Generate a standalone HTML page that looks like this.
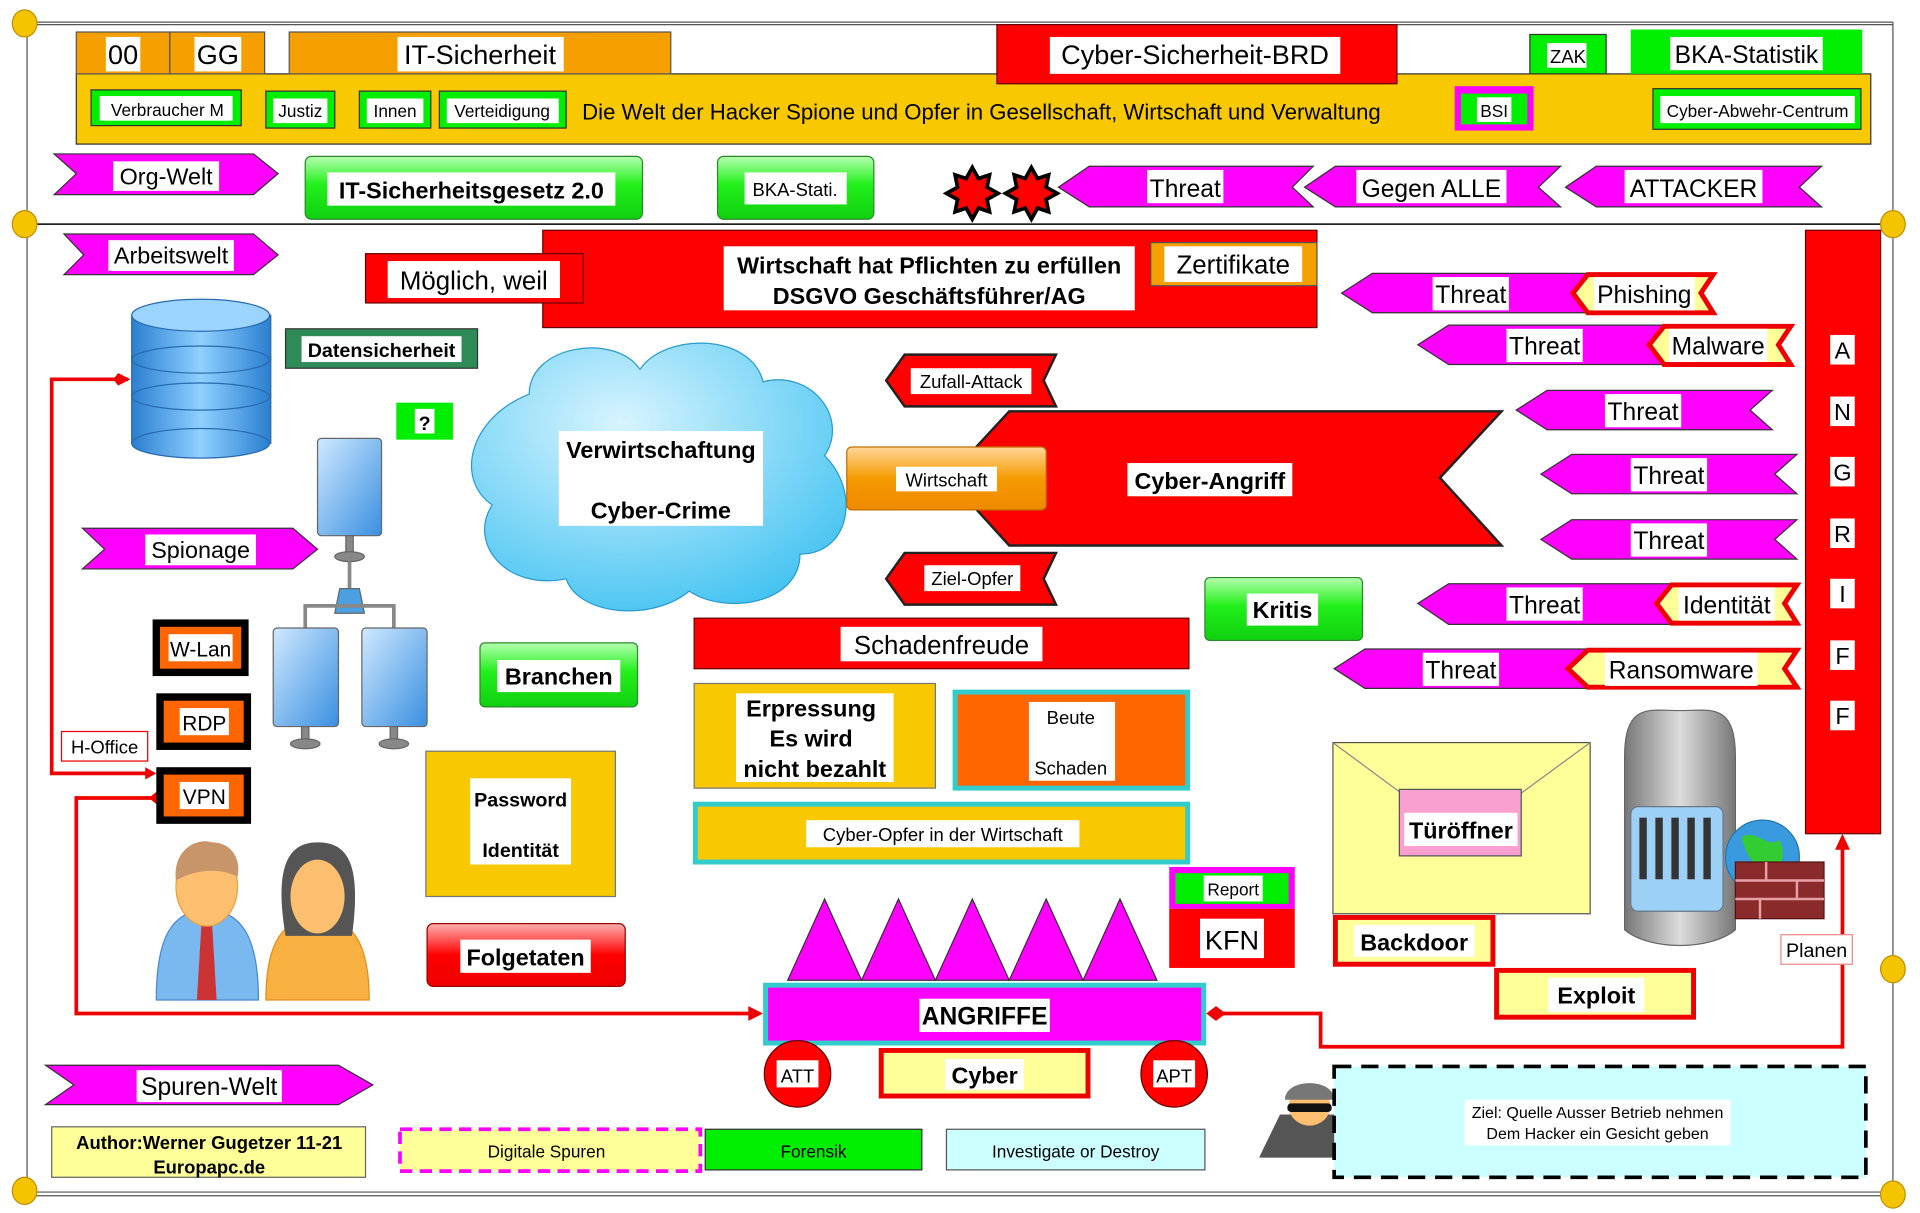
<!DOCTYPE html>
<html><head><meta charset="utf-8"><style>
html,body{margin:0;padding:0;background:#fff;width:1920px;height:1213px;overflow:hidden}
svg{display:block}
text{font-family:"Liberation Sans",Arial,sans-serif}
</style></head><body>
<svg width="1920" height="1213" viewBox="0 0 1560 985" preserveAspectRatio="none" xmlns="http://www.w3.org/2000/svg">
<defs>
<linearGradient id="gg" x1="0" y1="0" x2="0" y2="1"><stop offset="0" stop-color="#b5ffb0"/><stop offset="0.45" stop-color="#22f01a"/><stop offset="1" stop-color="#10d010"/></linearGradient>
<linearGradient id="og" x1="0" y1="0" x2="0" y2="1"><stop offset="0" stop-color="#ffd79a"/><stop offset="0.5" stop-color="#f59a00"/><stop offset="1" stop-color="#f08a00"/></linearGradient>
<linearGradient id="rg" x1="0" y1="0" x2="0" y2="1"><stop offset="0" stop-color="#ffb0b0"/><stop offset="0.5" stop-color="#f00"/><stop offset="1" stop-color="#e00"/></linearGradient>
<radialGradient id="cg" cx="0.4" cy="0.3" r="0.8"><stop offset="0" stop-color="#d8f4ff"/><stop offset="1" stop-color="#3cc0f0"/></radialGradient>
<linearGradient id="db" x1="0" y1="0" x2="1" y2="0"><stop offset="0" stop-color="#2a7fd0"/><stop offset="0.5" stop-color="#8fd0ff"/><stop offset="1" stop-color="#2a7fd0"/></linearGradient>
<linearGradient id="mon" x1="0" y1="0" x2="1" y2="1"><stop offset="0" stop-color="#cfe9ff"/><stop offset="1" stop-color="#3a8fe0"/></linearGradient>
<linearGradient id="srv" x1="0" y1="0" x2="1" y2="0"><stop offset="0" stop-color="#777"/><stop offset="0.5" stop-color="#ddd"/><stop offset="1" stop-color="#777"/></linearGradient>
</defs>

<g stroke="#555" fill="none" stroke-width="1">
<line x1="22" y1="18" x2="1538" y2="18"/><line x1="22" y1="20" x2="1538" y2="20"/>
<line x1="22" y1="18" x2="22" y2="970"/><line x1="1538" y1="18" x2="1538" y2="970"/>
<line x1="22" y1="968" x2="1538" y2="968"/><line x1="22" y1="971" x2="1538" y2="971"/>
</g>
<line x1="22" y1="182" x2="1528" y2="182" stroke="#000" stroke-width="1.2"/>
<path d="M1528,178 L1536,182 L1528,186Z" fill="#000"/>
<g fill="#f5c400" stroke="#c09000">
<ellipse cx="20" cy="19" rx="10" ry="11"/><ellipse cx="20" cy="182" rx="10" ry="11"/><ellipse cx="1538" cy="182" rx="10" ry="11"/><ellipse cx="1538" cy="787" rx="10" ry="11"/><ellipse cx="20" cy="967" rx="10" ry="11"/><ellipse cx="1538" cy="970" rx="10" ry="11"/>
</g>

<rect x="62" y="60" width="1458" height="57" fill="#f8c800" stroke="#333"/>
<rect x="62" y="26" width="76" height="34" fill="#f5a000" stroke="#555"/>
<rect x="138" y="26" width="77" height="34" fill="#f5a000" stroke="#555"/>
<rect x="235" y="26" width="310" height="34" fill="#f5a000" stroke="#555"/>
<rect x="86" y="30" width="28" height="28" fill="#fff"/><text x="100" y="52" font-size="22" text-anchor="middle">00</text>
<rect x="158" y="30" width="38" height="28" fill="#fff"/><text x="177" y="52" font-size="22" text-anchor="middle">GG</text>
<rect x="323" y="30" width="135" height="28" fill="#fff"/><text x="390" y="52" font-size="22" text-anchor="middle">IT-Sicherheit</text>
<rect x="810" y="20" width="325" height="48" fill="#f00" stroke="#600"/>
<rect x="853" y="30" width="236" height="30" fill="#fff"/><text x="971" y="52" font-size="22" text-anchor="middle">Cyber-Sicherheit-BRD</text>
<rect x="1243" y="28" width="62" height="32" fill="#0e0" stroke="#333"/><rect x="1257" y="35" width="32" height="20" fill="#fff"/><text x="1274" y="51" font-size="15" text-anchor="middle">ZAK</text>
<rect x="1325" y="24" width="188" height="36" fill="#0e0"/><rect x="1357" y="30" width="124" height="27" fill="#fff"/><text x="1419" y="51" font-size="20" text-anchor="middle">BKA-Statistik</text>

<g font-size="14" text-anchor="middle">
<rect x="74" y="73" width="122" height="29" fill="#0e0" stroke="#333"/><rect x="81" y="78" width="108" height="20" fill="#fff"/><text x="136" y="94">Verbraucher M</text>
<rect x="216" y="74" width="56" height="30" fill="#0e0" stroke="#333"/><rect x="222" y="80" width="44" height="20" fill="#fff"/><text x="244" y="95">Justiz</text>
<rect x="292" y="74" width="58" height="30" fill="#0e0" stroke="#333"/><rect x="298" y="80" width="46" height="20" fill="#fff"/><text x="321" y="95">Innen</text>
<rect x="357" y="74" width="103" height="30" fill="#0e0" stroke="#333"/><rect x="363" y="80" width="91" height="20" fill="#fff"/><text x="408" y="95">Verteidigung</text>
</g>
<text x="473" y="97" font-size="18">Die Welt der Hacker Spione und Opfer in Gesellschaft, Wirtschaft und Verwaltung</text>
<rect x="1182" y="70" width="64" height="36" fill="#f0f"/><rect x="1187" y="76" width="54" height="25" fill="#0e0"/><rect x="1200" y="79" width="28" height="20" fill="#fff"/><text x="1214" y="95" font-size="14" text-anchor="middle">BSI</text>
<rect x="1343" y="72" width="169" height="33" fill="#0e0" stroke="#333"/><rect x="1349" y="78" width="158" height="22" fill="#fff"/><text x="1428" y="95" font-size="14" text-anchor="middle">Cyber-Abwehr-Centrum</text>

<path d="M44,125 L206,125 L226,141 L206,158 L44,158 L62,141Z" fill="#f0f" stroke="#333"/>
<rect x="92" y="131" width="86" height="24" fill="#fff"/><text x="135" y="150" font-size="19" text-anchor="middle">Org-Welt</text>
<rect x="248" y="127" width="274" height="51" rx="5" fill="url(#gg)" stroke="#2a8a2a"/>
<rect x="266" y="140" width="234" height="27" fill="#fff"/><text x="383" y="161" font-size="19" font-weight="bold" text-anchor="middle">IT-Sicherheitsgesetz 2.0</text>
<rect x="583" y="127" width="127" height="51" rx="5" fill="url(#gg)" stroke="#2a8a2a"/>
<rect x="605" y="140" width="83" height="26" fill="#fff"/><text x="646" y="159" font-size="15" text-anchor="middle">BKA-Stati.</text>
<g fill="#f00" stroke="#000" stroke-width="3">
<path d="M790,136 l5,9 9,-3 -2,10 9,5 -9,5 2,10 -9,-3 -5,9 -5,-9 -9,3 2,-10 -9,-5 9,-5 -2,-10 9,3Z"/>
<path d="M838,136 l5,9 9,-3 -2,10 9,5 -9,5 2,10 -9,-3 -5,9 -5,-9 -9,3 2,-10 -9,-5 9,-5 -2,-10 9,3Z"/>
</g>
<g fill="#f0f" stroke="#333">
<path d="M860,152 L885,135 L1067,135 L1050,152 L1067,168 L885,168Z"/>
<path d="M1060,152 L1085,135 L1268,135 L1250,152 L1268,168 L1085,168Z"/>
<path d="M1272,152 L1297,135 L1480,135 L1462,152 L1480,168 L1297,168Z"/>
</g>
<g font-size="20" text-anchor="middle">
<rect x="932" y="138" width="62" height="27" fill="#fff"/><text x="963" y="160">Threat</text>
<rect x="1102" y="138" width="122" height="27" fill="#fff"/><text x="1163" y="160">Gegen ALLE</text>
<rect x="1320" y="138" width="112" height="27" fill="#fff"/><text x="1376" y="160">ATTACKER</text>
</g>

<path d="M52,190 L206,190 L226,207 L206,223 L52,223 L68,207Z" fill="#f0f" stroke="#333"/>
<rect x="88" y="195" width="102" height="25" fill="#fff"/><text x="139" y="214" font-size="19" text-anchor="middle">Arbeitswelt</text>

<rect x="441" y="187" width="629" height="79" fill="#f00" stroke="#600"/>
<rect x="588" y="200" width="334" height="52" fill="#fff"/>
<text x="755" y="222" font-size="19" font-weight="bold" text-anchor="middle">Wirtschaft hat Pflichten zu erfüllen</text>
<text x="755" y="247" font-size="19" font-weight="bold" text-anchor="middle">DSGVO  Geschäftsführer/AG</text>
<rect x="935" y="197" width="135" height="35" fill="#f5a000" stroke="#555"/><rect x="946" y="200" width="112" height="29" fill="#fff"/><text x="1002" y="222" font-size="21" text-anchor="middle">Zertifikate</text>
<rect x="297" y="206" width="177" height="40" fill="#f00" stroke="#600"/><rect x="315" y="212" width="140" height="30" fill="#fff"/><text x="385" y="235" font-size="21" text-anchor="middle">Möglich, weil</text>

<g stroke="#2a6ab0">
<rect x="107" y="320" width="113" height="40" fill="url(#db)"/><ellipse cx="163" cy="360" rx="56" ry="12" fill="url(#db)"/>
<rect x="107" y="290" width="113" height="32" fill="url(#db)"/><ellipse cx="163" cy="322" rx="56" ry="11" fill="url(#db)"/>
<rect x="107" y="256" width="113" height="36" fill="url(#db)"/><ellipse cx="163" cy="292" rx="56" ry="11" fill="url(#db)"/>
<ellipse cx="163" cy="256" rx="56" ry="13" fill="#9ad4ff"/>
</g>
<rect x="232" y="267" width="156" height="32" fill="#2e8b57" stroke="#333"/><rect x="245" y="273" width="130" height="21" fill="#fff"/><text x="310" y="290" font-size="16" font-weight="bold" text-anchor="middle">Datensicherheit</text>
<rect x="322" y="327" width="46" height="30" fill="#0e0"/><rect x="337" y="332" width="16" height="20" fill="#fff"/><text x="345" y="349" font-size="16" font-weight="bold" text-anchor="middle">?</text>

<path d="M430,320 C430,280 500,270 520,300 C540,270 610,270 620,310 C660,300 690,340 670,370 C700,400 690,450 650,450 C650,490 590,500 560,480 C530,505 470,500 460,470 C410,480 380,440 400,410 C370,390 380,340 430,320Z" fill="url(#cg)" stroke="#2a9ad0"/>
<rect x="454" y="350" width="166" height="77" fill="#fff"/>
<text x="537" y="372" font-size="19" font-weight="bold" text-anchor="middle">Verwirtschaftung</text>
<text x="537" y="421" font-size="19" font-weight="bold" text-anchor="middle">Cyber-Crime</text>

<g stroke="#666">
<rect x="258" y="356" width="52" height="79" rx="3" fill="url(#mon)"/>
<rect x="281" y="435" width="6" height="15" fill="#888"/><ellipse cx="284" cy="452" rx="12" ry="4" fill="#888"/>
<line x1="284" y1="456" x2="284" y2="492" stroke="#888" stroke-width="3"/>
<path d="M276,478 L292,478 L296,498 L272,498Z" fill="#4aa0e0"/>
<path d="M248,510 L248,492 L320,492 L320,510" fill="none" stroke="#888" stroke-width="3"/>
<rect x="222" y="510" width="53" height="80" rx="3" fill="url(#mon)"/>
<rect x="294" y="510" width="53" height="80" rx="3" fill="url(#mon)"/>
<rect x="245" y="590" width="6" height="12" fill="#888"/><ellipse cx="248" cy="604" rx="12" ry="4" fill="#888"/>
<rect x="317" y="590" width="6" height="12" fill="#888"/><ellipse cx="320" cy="604" rx="12" ry="4" fill="#888"/>
</g>
<path d="M67,429 L238,429 L258,446 L238,462 L67,462 L85,446Z" fill="#f0f" stroke="#333"/>
<rect x="118" y="434" width="90" height="25" fill="#fff"/><text x="163" y="453" font-size="19" text-anchor="middle">Spionage</text>

<g fill="none" stroke="#e00" stroke-width="3">
<path d="M104,308 L42,308 L42,628 L120,628"/>
<path d="M127,648 L62,648 L62,823 L612,823"/>
</g>
<path d="M96,303 L106,308 L96,313 L92,308Z" fill="#e00"/>
<path d="M118,623 L127,628 L118,633Z" fill="#e00"/>
<path d="M127,643 L133,648 L127,653 L121,648Z" fill="#e00"/>
<path d="M608,817 L620,823 L608,829Z" fill="#e00"/>

<g font-size="17" text-anchor="middle">
<rect x="124" y="503" width="78" height="46" fill="#000"/><rect x="130" y="509" width="66" height="34" fill="#f60"/><rect x="137" y="515" width="52" height="22" fill="#fff"/><text x="163" y="533">W-Lan</text>
<rect x="127" y="563" width="77" height="46" fill="#000"/><rect x="133" y="569" width="65" height="34" fill="#f60"/><rect x="146" y="575" width="40" height="22" fill="#fff"/><text x="166" y="593">RDP</text>
<rect x="127" y="623" width="77" height="46" fill="#000"/><rect x="133" y="629" width="65" height="34" fill="#f60"/><rect x="146" y="635" width="40" height="22" fill="#fff"/><text x="166" y="653">VPN</text>
</g>
<rect x="50" y="594" width="70" height="24" fill="#fff" stroke="#e00"/><text x="85" y="612" font-size="15" text-anchor="middle">H-Office</text>

<g>
<path d="M127,812 C127,760 140,740 168,738 C196,740 210,760 210,812Z" fill="#7ab8f0" stroke="#4a88d0"/>
<path d="M164,745 L172,745 L176,812 L160,812Z" fill="#c33"/>
<ellipse cx="168" cy="720" rx="25" ry="32" fill="#fbbf6f" stroke="#e8a040"/>
<path d="M143,715 C140,690 160,680 172,684 C190,684 196,700 193,712 C180,705 160,705 143,715Z" fill="#c8956a"/>
<path d="M216,812 C216,765 230,745 258,745 C286,745 300,765 300,812Z" fill="#f8b040" stroke="#e09020"/>
<path d="M232,760 C222,700 236,684 258,684 C282,684 294,700 286,760Z" fill="#555"/>
<ellipse cx="258" cy="728" rx="22" ry="30" fill="#fbbf6f"/>
</g>

<rect x="346" y="610" width="154" height="118" fill="#f8c800" stroke="#777"/>
<rect x="382" y="632" width="82" height="70" fill="#fff"/>
<text x="423" y="655" font-size="16" font-weight="bold" text-anchor="middle">Password</text>
<text x="423" y="696" font-size="16" font-weight="bold" text-anchor="middle">Identität</text>
<rect x="347" y="750" width="161" height="51" rx="5" fill="url(#rg)" stroke="#900"/>
<rect x="374" y="763" width="106" height="27" fill="#fff"/><text x="427" y="784" font-size="19" font-weight="bold" text-anchor="middle">Folgetaten</text>
<rect x="390" y="522" width="128" height="52" rx="4" fill="url(#gg)" stroke="#2a8a2a"/>
<rect x="404" y="536" width="100" height="26" fill="#fff"/><text x="454" y="556" font-size="19" font-weight="bold" text-anchor="middle">Branchen</text>

<path d="M770,388 L820,334 L1220,334 L1170,388 L1220,443 L820,443Z" fill="#f00" stroke="#222" stroke-width="2"/>
<rect x="916" y="376" width="134" height="27" fill="#fff"/><text x="983" y="397" font-size="19" font-weight="bold" text-anchor="middle">Cyber-Angriff</text>
<rect x="688" y="363" width="162" height="51" rx="4" fill="url(#og)" stroke="#c07000"/>
<rect x="728" y="379" width="82" height="20" fill="#fff"/><text x="769" y="395" font-size="15" text-anchor="middle">Wirtschaft</text>
<path d="M720,309 L735,288 L858,288 L848,309 L858,330 L735,330Z" fill="#f00" stroke="#222" stroke-width="2"/>
<rect x="740" y="299" width="98" height="21" fill="#fff"/><text x="789" y="315" font-size="15" text-anchor="middle">Zufall-Attack</text>
<path d="M720,470 L735,449 L858,449 L848,470 L858,491 L735,491Z" fill="#f00" stroke="#222" stroke-width="2"/>
<rect x="751" y="459" width="78" height="21" fill="#fff"/><text x="790" y="475" font-size="15" text-anchor="middle">Ziel-Opfer</text>
<rect x="979" y="469" width="128" height="51" rx="4" fill="url(#gg)" stroke="#2a8a2a"/>
<rect x="1013" y="482" width="58" height="26" fill="#fff"/><text x="1042" y="502" font-size="19" font-weight="bold" text-anchor="middle">Kritis</text>

<rect x="564" y="502" width="402" height="41" fill="#f00" stroke="#600"/>
<rect x="683" y="509" width="164" height="28" fill="#fff"/><text x="765" y="531" font-size="21" text-anchor="middle">Schadenfreude</text>
<rect x="564" y="555" width="196" height="85" fill="#f8c800" stroke="#777"/>
<rect x="598" y="563" width="128" height="72" fill="#fff"/>
<g font-size="19" font-weight="bold" text-anchor="middle"><text x="659" y="582">Erpressung</text><text x="659" y="606">Es wird</text><text x="662" y="631">nicht bezahlt</text></g>
<rect x="776" y="562" width="189" height="78" fill="#f60" stroke="#3cc" stroke-width="4"/>
<rect x="836" y="570" width="70" height="64" fill="#fff"/>
<text x="870" y="588" font-size="15" text-anchor="middle">Beute</text><text x="870" y="629" font-size="15" text-anchor="middle">Schaden</text>
<rect x="565" y="653" width="400" height="47" fill="#f8c800" stroke="#3cc" stroke-width="4"/>
<rect x="655" y="666" width="222" height="22" fill="#fff"/><text x="766" y="683" font-size="15" text-anchor="middle">Cyber-Opfer in der Wirtschaft</text>

<rect x="950" y="704" width="102" height="34" fill="#f0f"/><rect x="955" y="709" width="92" height="25" fill="#0e0"/><rect x="978" y="711" width="48" height="21" fill="#fff"/><text x="1002" y="727" font-size="14" text-anchor="middle">Report</text>
<rect x="950" y="738" width="102" height="48" fill="#f00"/><rect x="975" y="746" width="52" height="32" fill="#fff"/><text x="1001" y="771" font-size="22" text-anchor="middle">KFN</text>

<g fill="#f0f" stroke="#333">
<path d="M640,796 L670,730 L700,796Z"/><path d="M700,796 L730,730 L760,796Z"/><path d="M760,796 L790,730 L820,796Z"/><path d="M820,796 L850,730 L880,796Z"/><path d="M880,796 L910,730 L940,796Z"/>
</g>
<rect x="622" y="800" width="356" height="47" fill="#f0f" stroke="#3cc" stroke-width="4"/>
<rect x="747" y="811" width="106" height="27" fill="#fff"/><text x="800" y="832" font-size="20" font-weight="bold" text-anchor="middle">ANGRIFFE</text>
<circle cx="648" cy="872" r="27" fill="#f00" stroke="#600"/><rect x="631" y="861" width="34" height="22" fill="#fff"/><text x="648" y="879" font-size="15" text-anchor="middle">ATT</text>
<circle cx="954" cy="872" r="27" fill="#f00" stroke="#600"/><rect x="937" y="861" width="34" height="22" fill="#fff"/><text x="954" y="879" font-size="15" text-anchor="middle">APT</text>
<rect x="716" y="853" width="168" height="37" fill="#ffff9a" stroke="#e00" stroke-width="4"/>
<rect x="768" y="860" width="64" height="25" fill="#fff"/><text x="800" y="880" font-size="19" font-weight="bold" text-anchor="middle">Cyber</text>

<path d="M988,823 L1073,823 L1073,850 L1497,850 L1497,688" fill="none" stroke="#e00" stroke-width="3"/>
<path d="M980,823 L988,817 L996,823 L988,829Z" fill="#e00"/>
<path d="M1491,690 L1497,677 L1503,690Z" fill="#e00"/>

<g fill="#f0f" stroke="#333">
<path d="M1090,238 L1115,222 L1300,222 L1300,254 L1115,254Z"/>
<path d="M1152,280 L1177,264 L1360,264 L1360,296 L1177,296Z"/>
<path d="M1232,333 L1257,317 L1440,317 L1422,333 L1440,349 L1257,349Z"/>
<path d="M1252,385 L1277,369 L1460,369 L1442,385 L1460,401 L1277,401Z"/>
<path d="M1252,438 L1277,422 L1460,422 L1442,438 L1460,454 L1277,454Z"/>
<path d="M1152,490 L1177,474 L1360,474 L1360,507 L1177,507Z"/>
<path d="M1084,543 L1109,527 L1290,527 L1290,559 L1109,559Z"/>
</g>
<g fill="#ffff9a" stroke="#e00" stroke-width="4">
<path d="M1278,238 L1290,223 L1392,223 L1382,238 L1392,254 L1290,254Z"/>
<path d="M1340,280 L1352,265 L1455,265 L1445,280 L1455,296 L1352,296Z"/>
<path d="M1346,490 L1358,475 L1460,475 L1450,490 L1460,506 L1358,506Z"/>
<path d="M1274,543 L1290,528 L1460,528 L1450,543 L1460,558 L1290,558Z"/>
</g>
<g font-size="20" text-anchor="middle">
<rect x="1164" y="225" width="62" height="27" fill="#fff"/><text x="1195" y="246">Threat</text>
<rect x="1295" y="225" width="82" height="27" fill="#fff"/><text x="1336" y="246">Phishing</text>
<rect x="1224" y="267" width="62" height="27" fill="#fff"/><text x="1255" y="288">Threat</text>
<rect x="1356" y="267" width="80" height="27" fill="#fff"/><text x="1396" y="288">Malware</text>
<rect x="1304" y="320" width="62" height="27" fill="#fff"/><text x="1335" y="341">Threat</text>
<rect x="1325" y="372" width="62" height="27" fill="#fff"/><text x="1356" y="393">Threat</text>
<rect x="1325" y="425" width="62" height="27" fill="#fff"/><text x="1356" y="446">Threat</text>
<rect x="1224" y="477" width="62" height="27" fill="#fff"/><text x="1255" y="498">Threat</text>
<rect x="1364" y="477" width="78" height="27" fill="#fff"/><text x="1403" y="498">Identität</text>
<rect x="1156" y="530" width="62" height="27" fill="#fff"/><text x="1187" y="551">Threat</text>
<rect x="1304" y="530" width="124" height="27" fill="#fff"/><text x="1366" y="551">Ransomware</text>
</g>

<rect x="1467" y="187" width="61" height="490" fill="#f00" stroke="#600"/>
<g font-size="19" text-anchor="middle">
<rect x="1487" y="272" width="20" height="24" fill="#fff"/><text x="1497" y="291">A</text>
<rect x="1487" y="322" width="20" height="24" fill="#fff"/><text x="1497" y="341">N</text>
<rect x="1487" y="371" width="20" height="24" fill="#fff"/><text x="1497" y="390">G</text>
<rect x="1487" y="421" width="20" height="24" fill="#fff"/><text x="1497" y="440">R</text>
<rect x="1487" y="470" width="20" height="24" fill="#fff"/><text x="1497" y="489">I</text>
<rect x="1487" y="520" width="20" height="24" fill="#fff"/><text x="1497" y="539">F</text>
<rect x="1487" y="569" width="20" height="24" fill="#fff"/><text x="1497" y="588">F</text>
</g>

<rect x="1083" y="603" width="209" height="139" fill="#ffff9a" stroke="#555"/>
<path d="M1083,603 L1187,680 L1292,603" fill="none" stroke="#888"/>
<rect x="1137" y="641" width="99" height="54" fill="#f9a0d0" stroke="#555"/>
<rect x="1141" y="660" width="92" height="27" fill="#fff"/><text x="1187" y="681" font-size="19" font-weight="bold" text-anchor="middle">Türöffner</text>
<rect x="1085" y="745" width="128" height="38" fill="#ffff9a" stroke="#e00" stroke-width="4"/>
<rect x="1100" y="751" width="98" height="26" fill="#fff"/><text x="1149" y="772" font-size="19" font-weight="bold" text-anchor="middle">Backdoor</text>
<rect x="1216" y="788" width="160" height="38" fill="#ffff9a" stroke="#e00" stroke-width="4"/>
<rect x="1258" y="794" width="78" height="28" fill="#fff"/><text x="1297" y="815" font-size="19" font-weight="bold" text-anchor="middle">Exploit</text>

<path d="M1320,615 C1320,570 1340,577 1365,577 C1390,577 1410,570 1410,615 L1410,755 C1390,772 1340,772 1320,755Z" fill="url(#srv)" stroke="#666"/>
<rect x="1325" y="655" width="75" height="85" rx="6" fill="#9dd0f5" stroke="#678"/>
<g fill="#333"><rect x="1332" y="664" width="6" height="50"/><rect x="1345" y="664" width="6" height="50"/><rect x="1358" y="664" width="6" height="50"/><rect x="1371" y="664" width="6" height="50"/><rect x="1384" y="664" width="6" height="50"/></g>
<circle cx="1432" cy="696" r="30" fill="#3a9ae0" stroke="#27a"/>
<path d="M1415,680 C1425,672 1438,690 1445,682 C1452,690 1448,706 1440,712 C1430,708 1420,700 1415,680Z" fill="#3c3"/>
<rect x="1410" y="700" width="72" height="46" fill="#8a2a2a" stroke="#511"/>
<g stroke="#e8a0a8" stroke-width="2"><line x1="1410" y1="715" x2="1482" y2="715"/><line x1="1410" y1="730" x2="1482" y2="730"/><line x1="1435" y1="700" x2="1435" y2="715"/><line x1="1460" y1="715" x2="1460" y2="730"/><line x1="1430" y1="730" x2="1430" y2="746"/></g>
<rect x="1447" y="759" width="58" height="24" fill="#fff" stroke="#e88"/><text x="1476" y="777" font-size="16" text-anchor="middle">Planen</text>

<path d="M37,865 L275,865 L303,881 L275,897 L37,897 L60,881Z" fill="#f0f" stroke="#333"/>
<rect x="111" y="869" width="118" height="26" fill="#fff"/><text x="170" y="889" font-size="20" text-anchor="middle">Spuren-Welt</text>
<rect x="42" y="915" width="255" height="41" fill="#ffff9a" stroke="#666"/>
<text x="170" y="933" font-size="15" font-weight="bold" text-anchor="middle">Author:Werner Gugetzer  11-21</text>
<text x="170" y="953" font-size="15" font-weight="bold" text-anchor="middle">Europapc.de</text>
<rect x="325" y="917" width="244" height="34" fill="#ffff9a" stroke="#f0f" stroke-width="3" stroke-dasharray="10,6"/>
<text x="444" y="940" font-size="14" text-anchor="middle">Digitale Spuren</text>
<rect x="573" y="917" width="176" height="33" fill="#0e0" stroke="#333"/><text x="661" y="940" font-size="14" text-anchor="middle">Forensik</text>
<rect x="769" y="917" width="210" height="33" fill="#cff" stroke="#555"/><text x="874" y="940" font-size="14" text-anchor="middle">Investigate or Destroy</text>

<path d="M1023,940 L1040,905 L1088,905 L1105,940Z" fill="#555"/>
<ellipse cx="1064" cy="898" rx="17" ry="16" fill="#fbbf6f"/>
<path d="M1044,893 C1044,875 1084,875 1084,893Z" fill="#777"/>
<rect x="1046" y="896" width="36" height="7" rx="3" fill="#111"/>

<rect x="1084" y="866" width="432" height="90" fill="#cff" stroke="#000" stroke-width="3" stroke-dasharray="14,8"/>
<rect x="1190" y="893" width="216" height="37" fill="#fff"/>
<text x="1298" y="908" font-size="13" text-anchor="middle">Ziel: Quelle Ausser Betrieb nehmen</text>
<text x="1298" y="925" font-size="13" text-anchor="middle">Dem Hacker ein Gesicht geben</text>
</svg>
</body></html>
